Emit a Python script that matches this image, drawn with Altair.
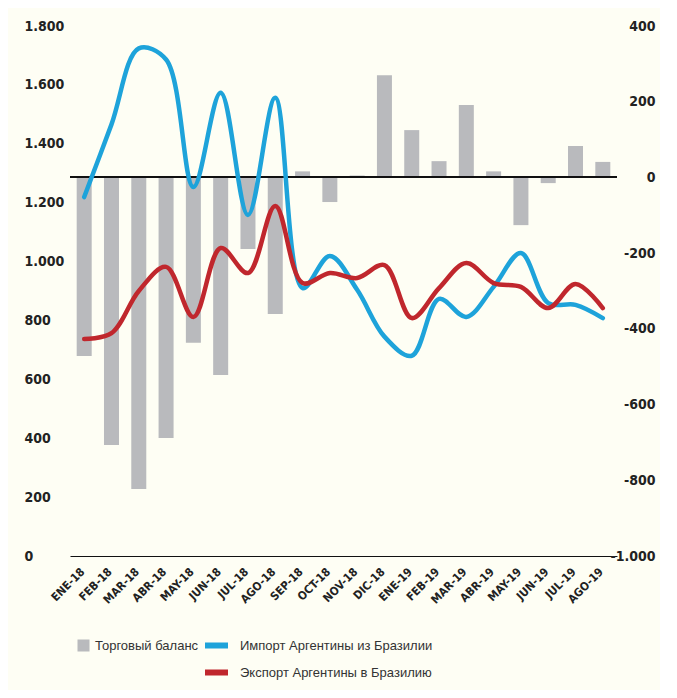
import altair as alt
import pandas as pd

months = ["ENE-18", "FEB-18", "MAR-18", "ABR-18", "MAY-18", "JUN-18", "JUL-18", "AGO-18",
          "SEP-18", "OCT-18", "NOV-18", "DIC-18", "ENE-19", "FEB-19", "MAR-19", "ABR-19",
          "MAY-19", "JUN-19", "JUL-19", "AGO-19"]
balance = [-472, -707, -823, -688, -437, -522, -189, -361, 16, -65, 5, 270, 125, 43, 191, 16,
           -126, -15, 83, 41]
imports = [1219, 1466, 1724, 1686, 1253, 1573, 1158, 1556, 910, 1019, 904, 745, 680, 873, 812,
           914, 1029, 859, 853, 808]
exports = [737, 757, 900, 982, 812, 1046, 961, 1189, 927, 961, 944, 988, 808, 910, 995, 927,
           914, 842, 924, 842]

left_ticks = [0, 200, 400, 600, 800, 1000, 1200, 1400, 1600, 1800]
right_ticks = [-1000, -800, -600, -400, -200, 0, 200, 400]

bal_name = "Торговый баланс"
imp_name = "Импорт Аргентины из Бразилии"
exp_name = "Экспорт Аргентины в Бразилию"

GRAY = "#b9babd"
BLUE = "#1ea3da"
RED = "#c0272d"
BG = "#fefef4"
AXFONT = "Liberation Sans Narrow, DejaVu Sans Condensed, Arial, sans-serif"
LGFONT = "Liberation Sans, Arial, sans-serif"

df_bar = pd.DataFrame({"month": months, "balance": balance, "series": [bal_name] * len(months)})
df_line = pd.DataFrame({
    "month": months + months,
    "value": imports + exports,
    "series": [imp_name] * len(months) + [exp_name] * len(months),
})

x_enc = alt.X(
    "month:N", sort=months,
    scale=alt.Scale(paddingInner=0.45, paddingOuter=0.245),
    axis=alt.Axis(title=None, labelAngle=-45, labelAlign="right", labelBaseline="middle",
                  labelFont=AXFONT, labelFontSize=11.5, labelFontWeight="bold", labelColor="#222",
                  labelPadding=14, labelOffset=-1, ticks=False, domainColor="#111",
                  domainWidth=1.2, grid=False),
)

bars = alt.Chart(df_bar).mark_bar(size=15).encode(
    x=x_enc,
    y=alt.Y("balance:Q", scale=alt.Scale(domain=[-1000, 400], nice=False, zero=False),
            axis=alt.Axis(orient="right", title=None, values=right_ticks, ticks=False,
                          domain=False, grid=False, labelAlign="right", labelPadding=38,
                          labelFont=AXFONT, labelFontSize=14, labelFontWeight="bold",
                          labelColor="#222",
                          labelExpr="replace(replace(format(datum.value, ','), ',', '.'), '−', '-')")),
    fill=alt.Fill("series:N", scale=alt.Scale(domain=[bal_name], range=[GRAY]),
                  legend=alt.Legend(title=None, orient="none", legendX=7, legendY=613,
                                    symbolType="square", symbolSize=144, symbolStrokeWidth=0,
                                    labelFont=LGFONT, labelFontSize=13, labelColor="#333",
                                    labelOffset=5, labelLimit=400)),
)

zero = alt.Chart(df_bar).mark_rule(color="#111", strokeWidth=1.2).encode(y=alt.datum(0))

lines = alt.Chart(df_line).mark_line(strokeWidth=4.5, interpolate="catmull-rom",
                                     strokeCap="round").encode(
    x=x_enc,
    y=alt.Y("value:Q", scale=alt.Scale(domain=[0, 1800], nice=False),
            axis=alt.Axis(orient="left", title=None, values=left_ticks, ticks=False,
                          domain=False, grid=False, labelAlign="left", labelPadding=46,
                          labelFont=AXFONT, labelFontSize=14, labelFontWeight="bold",
                          labelColor="#222",
                          labelExpr="replace(format(datum.value, ','), ',', '.')")),
    stroke=alt.Stroke("series:N", sort=[imp_name, exp_name],
                      scale=alt.Scale(domain=[imp_name, exp_name], range=[BLUE, RED]),
                      legend=alt.Legend(title=None, orient="none", legendX=132, legendY=605,
                                        symbolType="stroke", symbolSize=529,
                                        symbolStrokeWidth=6, rowPadding=-2,
                                        labelFont=LGFONT, labelFontSize=13,
                                        labelColor="#333", labelOffset=9, labelLimit=400)),
)

chart = alt.layer(alt.layer(bars, zero), lines).resolve_scale(
    y="independent"
).properties(
    width=547, height=530,
    padding={"left": 16, "top": 11, "right": 5, "bottom": 5},
    background=BG,
).configure_view(stroke=None)

chart.save("out.html", embed_options={"renderer": "svg", "actions": False})
